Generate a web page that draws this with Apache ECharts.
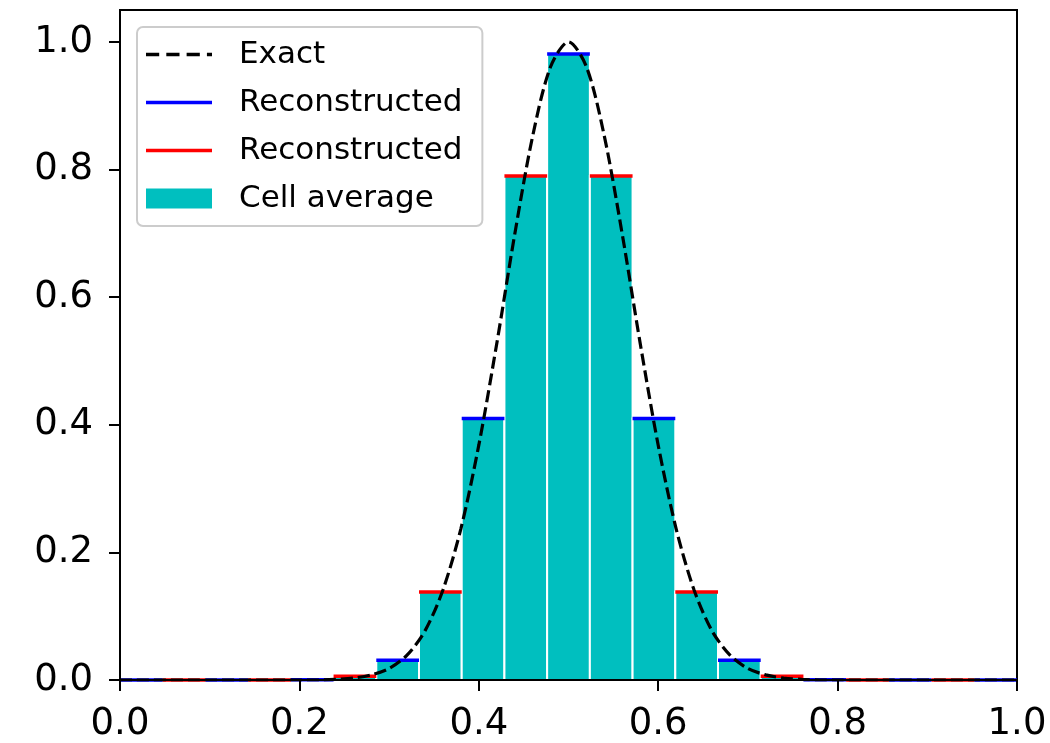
<!DOCTYPE html>
<html>
<head>
<meta charset="utf-8">
<script src="https://cdn.jsdelivr.net/npm/echarts@6/dist/echarts.min.js"></script>
<style>
html, body { margin: 0; padding: 0; background: #fff; }
#chart { width: 1050px; height: 743px; }
</style>
</head>
<body>
<div id="chart"></div>
<script>
// 21 uniform cells on [0, 1]
const nCells = 21;
const cellAverage = [0, 0, 0, 0, 0.0005, 0.006, 0.031, 0.138, 0.41, 0.79, 0.981,
                     0.79, 0.41, 0.138, 0.031, 0.006, 0.0005, 0, 0, 0, 0];
// reconstructed value per cell (same level as the cell average)
const reconstructed = [0, 0, 0, 0, 0.0005, 0.006, 0.031, 0.138, 0.41, 0.79, 0.981,
                       0.79, 0.41, 0.138, 0.031, 0.006, 0.0005, 0, 0, 0, 0];

// exact profile
const exactX = [0, 0.2, 0.22, 0.24, 0.26, 0.28, 0.30, 0.32, 0.34, 0.36, 0.38, 0.40,
                0.42, 0.44, 0.46, 0.48, 0.50, 0.52, 0.54, 0.56, 0.58, 0.60, 0.62,
                0.64, 0.66, 0.68, 0.70, 0.72, 0.74, 0.76, 0.78, 0.80, 1.0];
const exactY = [0, 0, 0, 0.001, 0.003, 0.008, 0.018, 0.039, 0.077, 0.141, 0.237, 0.368,
                0.527, 0.698, 0.852, 0.961, 1.0, 0.961, 0.852, 0.698, 0.527, 0.368, 0.237,
                0.141, 0.077, 0.039, 0.018, 0.008, 0.003, 0.001, 0, 0, 0];

const xTicks = [0, 0.2, 0.4, 0.6, 0.8, 1.0];
const yTicks = [0, 0.2, 0.4, 0.6, 0.8, 1.0];

const FONT = 'DejaVu Sans';

const chart = echarts.init(document.getElementById('chart'), null, { renderer: 'canvas' });

// bar data: [left edge, right edge, value]
const barData = cellAverage.map((v, i) => [i / nCells, (i + 1) / nCells, v]);
const blueData = [];
const redData = [];
reconstructed.forEach((v, i) => {
    const row = [i / nCells, (i + 1) / nCells, v];
    if (i % 2 === 0) blueData.push(row); else redData.push(row);
});

function renderBar(params, api) {
    const v = api.value(2);
    if (!(v > 0)) return null;
    const p0 = api.coord([api.value(0), 0]);
    const p1 = api.coord([api.value(1), v]);
    return {
        type: 'rect',
        shape: { x: p0[0], y: p1[1], width: p1[0] - p0[0], height: p0[1] - p1[1] },
        style: { fill: '#00bfbf', stroke: '#ffffff', lineWidth: 2 }
    };
}

function makeSegment(color) {
    return function (params, api) {
        const p0 = api.coord([api.value(0), api.value(2)]);
        const p1 = api.coord([api.value(1), api.value(2)]);
        return {
            type: 'line',
            shape: { x1: p0[0], y1: p0[1], x2: p1[0], y2: p1[1] },
            style: { stroke: color, lineWidth: 3.5 }
        };
    };
}

const axisLabelStyle = { fontSize: 37, fontFamily: FONT, color: '#000' };

const option = {
    animation: false,
    backgroundColor: '#ffffff',
    grid: {
        left: 120, right: 33, top: 10, bottom: 63,
        show: true, borderColor: '#000', borderWidth: 2, backgroundColor: 'transparent'
    },
    xAxis: {
        type: 'value', min: 0, max: 1, interval: 0.2, z: 10,
        axisLine: { show: true, lineStyle: { color: '#000', width: 2 } },
        axisTick: { show: true, length: 11, lineStyle: { color: '#000', width: 2 } },
        splitLine: { show: false },
        axisLabel: Object.assign({ margin: 26, formatter: v => xTicks.includes(+v.toFixed(2)) ? v.toFixed(1) : '' }, axisLabelStyle)
    },
    yAxis: {
        type: 'value', min: 0, max: 1.05, interval: 0.2, z: 10,
        axisLine: { show: true, lineStyle: { color: '#000', width: 2 } },
        axisTick: { show: true, length: 11, lineStyle: { color: '#000', width: 2 } },
        splitLine: { show: false },
        axisLabel: Object.assign({ margin: 27, showMaxLabel: false, formatter: v => yTicks.includes(+v.toFixed(2)) ? v.toFixed(1) : '' }, axisLabelStyle)
    },
    legend: {
        orient: 'vertical', left: 137, top: 27,
        selectedMode: false,
        itemWidth: 66, itemHeight: 20, itemGap: 17,
        symbolKeepAspect: true,
        padding: [12, 10, 12, 9],
        borderColor: '#cccccc', borderWidth: 2, borderRadius: 6,
        backgroundColor: 'rgba(255,255,255,0.8)',
        textStyle: { fontSize: 31, fontFamily: FONT, color: '#000', padding: [0, 0, 0, 22] },
        data: [
            { name: 'Exact', icon: 'path://M0,0H13V3.5H0Z M20,0H33V3.5H20Z M40,0H53V3.5H40Z M60,0H65V3.5H60Z' },
            { name: 'Reconstructed', icon: 'path://M0,0H66V3.5H0Z' },
            { name: 'Reconstructed ', icon: 'path://M0,0H66V3.5H0Z' },
            { name: 'Cell average', icon: 'rect' }
        ]
    },
    series: [
        {
            name: 'Cell average',
            type: 'custom',
            renderItem: renderBar,
            itemStyle: { color: '#00bfbf' },
            encode: { x: [0, 1], y: 2 },
            data: barData,
            z: 2
        },
        {
            name: 'Reconstructed',
            type: 'custom',
            renderItem: makeSegment('#0000ff'),
            itemStyle: { color: '#0000ff' },
            encode: { x: [0, 1], y: 2 },
            data: blueData,
            z: 3
        },
        {
            name: 'Reconstructed ',
            type: 'custom',
            renderItem: makeSegment('#ff0000'),
            itemStyle: { color: '#ff0000' },
            encode: { x: [0, 1], y: 2 },
            data: redData,
            z: 3
        },
        {
            name: 'Exact',
            type: 'line',
            data: exactX.map((x, i) => [x, exactY[i]]),
            symbol: 'none',
            smooth: 0.3,
            itemStyle: { color: '#000' },
            lineStyle: { color: '#000', width: 3.2, type: [12, 5] },
            z: 4
        }
    ]
};

chart.setOption(option);
</script>
</body>
</html>
